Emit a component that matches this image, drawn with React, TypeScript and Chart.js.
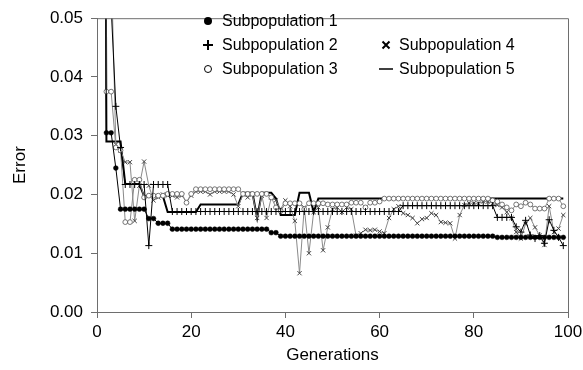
import React, { useEffect, useRef } from 'react';
import { Chart, registerables } from 'chart.js';

Chart.register(...registerables);

const generations = [
  1, 2, 3, 4, 5, 6, 7, 8, 9, 10, 11, 12, 13, 14, 15, 16, 17, 18, 19, 20,
  21, 22, 23, 24, 25, 26, 27, 28, 29, 30, 31, 32, 33, 34, 35, 36, 37, 38, 39, 40,
  41, 42, 43, 44, 45, 46, 47, 48, 49, 50, 51, 52, 53, 54, 55, 56, 57, 58, 59, 60,
  61, 62, 63, 64, 65, 66, 67, 68, 69, 70, 71, 72, 73, 74, 75, 76, 77, 78, 79, 80,
  81, 82, 83, 84, 85, 86, 87, 88, 89, 90, 91, 92, 93, 94, 95, 96, 97, 98, 99,
];

const seriesNames = ['Subpopulation 1', 'Subpopulation 2', 'Subpopulation 3', 'Subpopulation 4', 'Subpopulation 5'];

const sub1 = [
  0.2, 0.0305, 0.0305, 0.0245, 0.0175, 0.0175, 0.0175, 0.0175, 0.0175, 0.0175,
  0.0159, 0.0159, 0.0151, 0.0151, 0.0151, 0.0141, 0.0141, 0.0141, 0.0141, 0.0141,
  0.0141, 0.0141, 0.0141, 0.0141, 0.0141, 0.0141, 0.0141, 0.0141, 0.0141, 0.0141,
  0.0141, 0.0141, 0.0141, 0.0141, 0.0141, 0.0141, 0.0135, 0.0135, 0.0129, 0.0129,
  0.0129, 0.0129, 0.0129, 0.0129, 0.0129, 0.0129, 0.0129, 0.0129, 0.0129, 0.0129,
  0.0129, 0.0129, 0.0129, 0.0129, 0.0129, 0.0129, 0.0129, 0.0129, 0.0129, 0.0129,
  0.0129, 0.0129, 0.0129, 0.0129, 0.0129, 0.0129, 0.0129, 0.0129, 0.0129, 0.0129,
  0.0129, 0.0129, 0.0129, 0.0129, 0.0129, 0.0129, 0.0129, 0.0129, 0.0129, 0.0129,
  0.0129, 0.0129, 0.0129, 0.0129, 0.0127, 0.0127, 0.0127, 0.0127, 0.0127, 0.0127,
  0.0127, 0.0127, 0.0127, 0.0127, 0.0127, 0.0127, 0.0127, 0.0127, 0.0127,
];

const sub2 = [
  0.2, 0.09, 0.052, 0.035, 0.028, 0.0217, 0.0217, 0.0217, 0.0217, 0.0217,
  0.0113, 0.0217, 0.0217, 0.0217, 0.0217, 0.0171, 0.0171, 0.0171, 0.0171, 0.0171,
  0.0171, 0.0171, 0.0171, 0.0171, 0.0171, 0.0171, 0.0171, 0.0171, 0.0171, 0.0171,
  0.0171, 0.0171, 0.0171, 0.0171, 0.0171, 0.0171, 0.0171, 0.0171, 0.0171, 0.0171,
  0.0171, 0.0171, 0.0171, 0.0171, 0.0171, 0.0171, 0.0171, 0.0171, 0.0171, 0.0171,
  0.0171, 0.0171, 0.0171, 0.0171, 0.0171, 0.0171, 0.0171, 0.0171, 0.0171, 0.0171,
  0.0171, 0.0171, 0.0171, 0.0171, 0.0181, 0.0181, 0.0181, 0.0181, 0.0181, 0.0181,
  0.0181, 0.0181, 0.0181, 0.0181, 0.0181, 0.0181, 0.0181, 0.0181, 0.0181, 0.0181,
  0.0181, 0.0181, 0.0181, 0.0181, 0.0161, 0.0161, 0.0161, 0.0161, 0.0145, 0.0136,
  0.0156, 0.0131, 0.0125, 0.013, 0.0117, 0.0157, 0.0139, 0.0127, 0.0113,
];

const sub3 = [
  0.2, 0.0375, 0.0375, 0.028, 0.0275, 0.0153, 0.0153, 0.0225, 0.0225, 0.0195,
  0.0198, 0.0198, 0.0198, 0.0198, 0.0201, 0.0201, 0.0201, 0.0201, 0.0186, 0.0201,
  0.0209, 0.0209, 0.0209, 0.0209, 0.0209, 0.0209, 0.0209, 0.0209, 0.0209, 0.0209,
  0.0201, 0.0201, 0.0201, 0.0201, 0.0201, 0.0201, 0.0195, 0.0178, 0.0172, 0.0185,
  0.0185, 0.0185, 0.0185, 0.0175, 0.0185, 0.0185, 0.0185, 0.0185, 0.0183, 0.0183,
  0.0183, 0.0183, 0.0183, 0.0186, 0.0186, 0.0186, 0.0178, 0.0186, 0.0186, 0.0188,
  0.0193, 0.0193, 0.0193, 0.0193, 0.0193, 0.0193, 0.0193, 0.0193, 0.0193, 0.0193,
  0.0193, 0.0193, 0.0193, 0.0193, 0.0193, 0.0193, 0.0193, 0.0193, 0.0193, 0.0193,
  0.0193, 0.0193, 0.0193, 0.019, 0.0188, 0.0183, 0.0178, 0.0173, 0.0183, 0.018,
  0.0186, 0.0183, 0.0176, 0.0176, 0.0176, 0.0193, 0.0193, 0.0193, 0.018,
];

const sub4 = [
  0.2, 0.15, 0.06, 0.0285, 0.0275, 0.0255, 0.0255, 0.0155, 0.0215, 0.0256,
  0.0215, 0.019, 0.0195, 0.02, 0.0198, 0.0198, 0.0195, 0.0198, 0.0188, 0.0198,
  0.0205, 0.0205, 0.0205, 0.02, 0.0205, 0.0205, 0.0205, 0.0205, 0.02, 0.018,
  0.02, 0.0195, 0.02, 0.016, 0.0198, 0.016, 0.0195, 0.019, 0.0175, 0.019,
  0.018, 0.0155, 0.0066, 0.0178, 0.01, 0.017, 0.0178, 0.0105, 0.0144, 0.0175,
  0.0178, 0.017, 0.0178, 0.0175, 0.013, 0.0134, 0.014, 0.0139, 0.014, 0.0137,
  0.0134, 0.016, 0.0175, 0.018, 0.0168, 0.0165, 0.016, 0.0151, 0.0158, 0.016,
  0.0168, 0.0165, 0.0153, 0.0152, 0.0151, 0.0125, 0.0165, 0.0182, 0.0185, 0.0185,
  0.0185, 0.0188, 0.0188, 0.0185, 0.0182, 0.0178, 0.017, 0.016, 0.0136, 0.0125,
  0.015, 0.016, 0.0144, 0.013, 0.0114, 0.018, 0.0136, 0.0142, 0.0165,
];

const sub5 = [
  0.25, 0.029, 0.029, 0.029, 0.029, 0.0218, 0.0218, 0.0218, 0.0218, 0.0197,
  0.0197, 0.0197, 0.0197, 0.0197, 0.017, 0.017, 0.017, 0.017, 0.017, 0.017,
  0.017, 0.0183, 0.0183, 0.0183, 0.0183, 0.0183, 0.0183, 0.0183, 0.0183, 0.0183,
  0.0203, 0.0203, 0.0203, 0.016, 0.0203, 0.0203, 0.0203, 0.0193, 0.0165, 0.0165,
  0.0165, 0.0165, 0.0203, 0.0203, 0.0203, 0.017, 0.0193, 0.0193, 0.0193, 0.0193,
  0.0193, 0.0193, 0.0193, 0.0193, 0.0193, 0.0193, 0.0193, 0.0193, 0.0193, 0.0193,
  0.0193, 0.0193, 0.0193, 0.0193, 0.0193, 0.0193, 0.0193, 0.0193, 0.0193, 0.0193,
  0.0193, 0.0193, 0.0193, 0.0193, 0.0193, 0.0193, 0.0193, 0.0193, 0.0193, 0.0193,
  0.0193, 0.0193, 0.0193, 0.0193, 0.0193, 0.0193, 0.0193, 0.0193, 0.0193, 0.0193,
  0.0193, 0.0193, 0.0193, 0.0193, 0.0193, 0.0193, 0.0193, 0.0193, 0.0193,
];

const yTicks = [0, 0.01, 0.02, 0.03, 0.04, 0.05];
const xTicks = [0, 20, 40, 60, 80, 100];

const FONT = '"Liberation Sans", Arial, sans-serif';

const toPoints = (vals: number[]) => generations.map((g, i) => ({ x: g, y: vals[i] }));

const framePlugin = {
  id: 'frame',
  afterDatasetsDraw(chart: any) {
    const { ctx, chartArea } = chart;
    ctx.save();
    ctx.strokeStyle = '#6e6e6e';
    ctx.lineWidth = 1;
    ctx.beginPath();
    ctx.moveTo(chartArea.left, chartArea.top + 0.5);
    ctx.lineTo(chartArea.right + 0.5, chartArea.top + 0.5);
    ctx.lineTo(chartArea.right + 0.5, chartArea.bottom);
    ctx.stroke();
    ctx.restore();
  },
};

const legendPlugin = {
  id: 'innerLegend',
  afterDraw(chart: any) {
    const ctx = chart.ctx;
    const items = [
      { col: 0, row: 0, kind: 'dot' },
      { col: 0, row: 1, kind: 'plus' },
      { col: 0, row: 2, kind: 'circle' },
      { col: 1, row: 1, kind: 'x' },
      { col: 1, row: 2, kind: 'dash' },
    ];
    const colMarker = [208, 386];
    const colText = [222, 399];
    const rowY = [21, 45, 69];
    ctx.save();
    ctx.font = '16px ' + FONT;
    ctx.textBaseline = 'middle';
    ctx.fillStyle = '#000';
    items.forEach((it, i) => {
      const mx = colMarker[it.col];
      const my = rowY[it.row];
      ctx.strokeStyle = '#000';
      ctx.fillStyle = '#000';
      ctx.lineWidth = 1.5;
      ctx.beginPath();
      if (it.kind === 'dot') {
        ctx.arc(mx, my, 4, 0, Math.PI * 2);
        ctx.fill();
      } else if (it.kind === 'plus') {
        ctx.lineWidth = 2;
        ctx.moveTo(mx - 5, my);
        ctx.lineTo(mx + 5, my);
        ctx.moveTo(mx, my - 5);
        ctx.lineTo(mx, my + 5);
        ctx.stroke();
      } else if (it.kind === 'circle') {
        ctx.lineWidth = 1;
        ctx.arc(mx, my, 3.5, 0, Math.PI * 2);
        ctx.stroke();
      } else if (it.kind === 'x') {
        ctx.lineWidth = 2;
        ctx.moveTo(mx - 3.5, my - 3.5);
        ctx.lineTo(mx + 3.5, my + 3.5);
        ctx.moveTo(mx + 3.5, my - 3.5);
        ctx.lineTo(mx - 3.5, my + 3.5);
        ctx.stroke();
      } else {
        ctx.lineWidth = 1.5;
        ctx.moveTo(mx - 7, my);
        ctx.lineTo(mx + 7, my);
        ctx.stroke();
      }
      ctx.fillStyle = '#000';
      ctx.fillText(seriesNames[i], colText[it.col], my + 1);
    });
    ctx.restore();
  },
};

export default function App() {
  const canvasRef = useRef<HTMLCanvasElement | null>(null);

  useEffect(() => {
    if (!canvasRef.current) return;
    const chart = new Chart(canvasRef.current, {
      type: 'line',
      data: {
        datasets: [
          {
            label: seriesNames[0],
            data: toPoints(sub1),
            borderColor: '#000',
            borderWidth: 1,
            pointStyle: 'circle',
            pointRadius: 2.4,
            pointBackgroundColor: '#000',
            pointBorderColor: '#000',
            pointBorderWidth: 0.5,
          },
          {
            label: seriesNames[1],
            data: toPoints(sub2),
            borderColor: '#000',
            borderWidth: 1,
            pointStyle: 'cross',
            pointRadius: 3.5,
            pointBorderColor: '#000',
            pointBorderWidth: 1,
          },
          {
            label: seriesNames[2],
            data: toPoints(sub3),
            borderColor: '#8a8a8a',
            borderWidth: 1,
            pointStyle: 'circle',
            pointRadius: 2.4,
            pointBackgroundColor: '#fff',
            pointBorderColor: '#555',
            pointBorderWidth: 0.8,
          },
          {
            label: seriesNames[3],
            data: toPoints(sub4),
            borderColor: '#8a8a8a',
            borderWidth: 1,
            pointStyle: 'crossRot',
            pointRadius: 3,
            pointBorderColor: '#444',
            pointBorderWidth: 1,
          },
          {
            label: seriesNames[4],
            data: toPoints(sub5),
            borderColor: '#000',
            borderWidth: 2,
            pointRadius: 0,
          },
        ],
      },
      options: {
        responsive: false,
        animation: false,
        events: [],
        layout: { padding: { top: 12, right: 15, left: 0, bottom: 0 } },
        plugins: {
          legend: { display: false },
          tooltip: { enabled: false },
          title: { display: false },
        },
        scales: {
          x: {
            type: 'linear',
            min: 0,
            max: 100,
            afterFit: (s: any) => { s.height = 58; s.paddingRight = 0; s.paddingLeft = 0; },
            afterBuildTicks: (s: any) => { s.ticks = xTicks.map((v) => ({ value: v })); },
            ticks: {
              color: '#000',
              font: { family: FONT, size: 17 },
              padding: 4,
              maxRotation: 0,
              autoSkip: false,
            },
            grid: {
              display: true,
              drawOnChartArea: false,
              drawTicks: true,
              tickLength: 6,
              color: '#6e6e6e',
            },
            border: { display: true, color: '#6e6e6e' },
            title: {
              display: true,
              text: 'Generations',
              color: '#000',
              font: { family: FONT, size: 17 },
              padding: { top: 0, bottom: 4 },
            },
          },
          y: {
            type: 'linear',
            min: 0,
            max: 0.05,
            afterFit: (s: any) => { s.width = 97; },
            afterBuildTicks: (s: any) => { s.ticks = yTicks.map((v) => ({ value: v })); },
            ticks: {
              color: '#000',
              font: { family: FONT, size: 17 },
              padding: 8,
              callback: (v: any) => Number(v).toFixed(2),
            },
            grid: {
              display: true,
              drawOnChartArea: false,
              drawTicks: true,
              tickLength: 6,
              color: '#6e6e6e',
            },
            border: { display: true, color: '#6e6e6e' },
            title: {
              display: true,
              text: 'Error',
              color: '#000',
              font: { family: FONT, size: 17 },
              padding: { top: 10, bottom: 0 },
            },
          },
        },
      },
      plugins: [framePlugin, legendPlugin],
    });
    return () => chart.destroy();
  }, []);

  return (
    <div style={{ position: 'fixed', left: 0, top: 0, width: 583, height: 370, background: '#fff' }}>
      <canvas ref={canvasRef} width={583} height={370} style={{ width: 583, height: 370, display: 'block' }} />
    </div>
  );
}
